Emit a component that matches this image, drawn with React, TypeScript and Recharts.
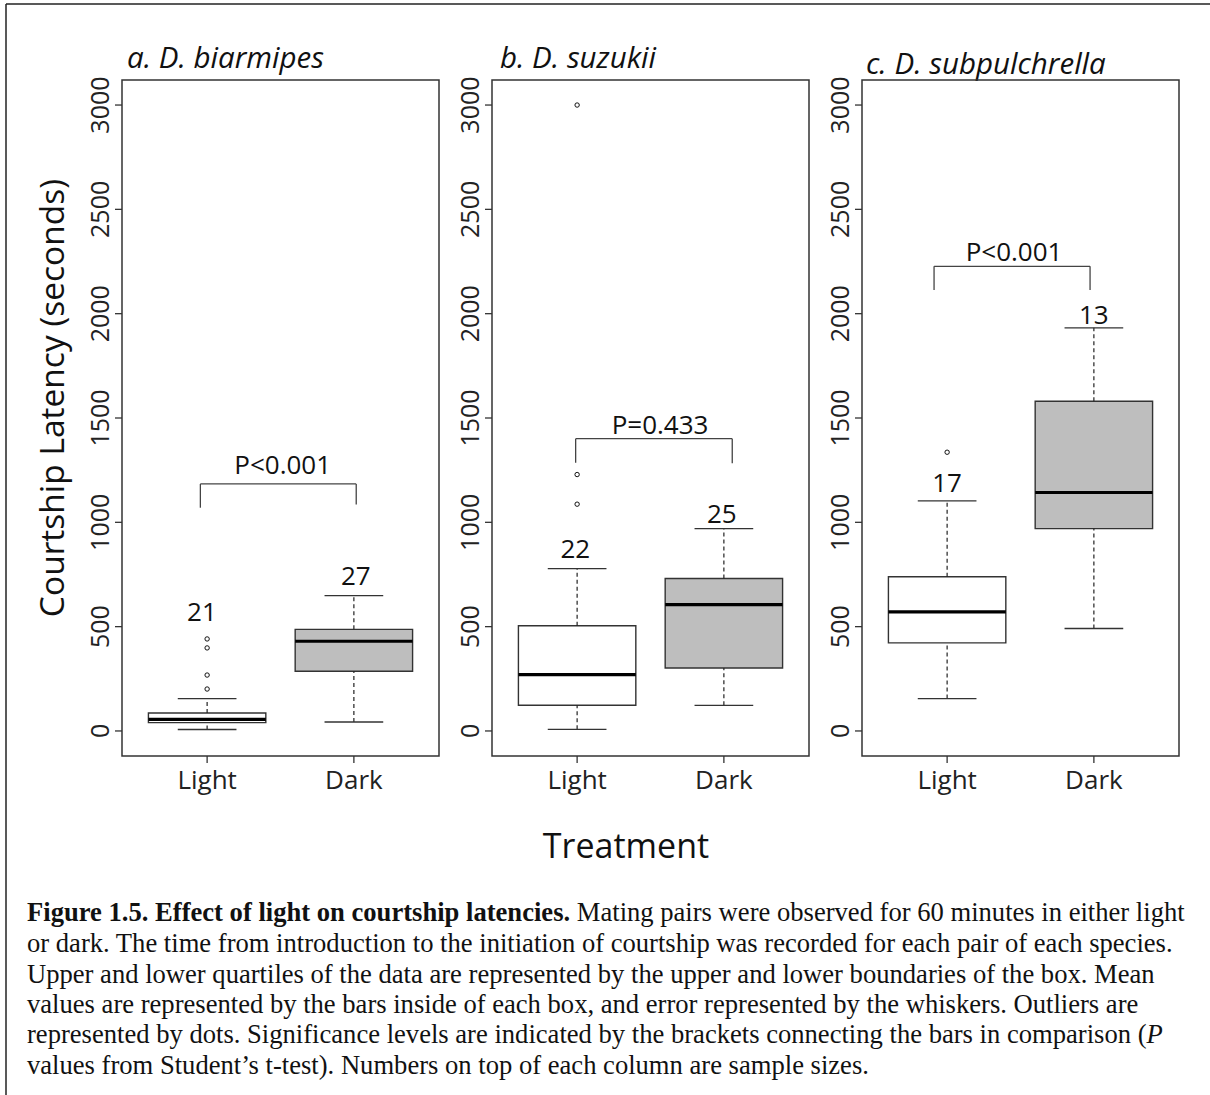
import React from 'react';
import {
  ComposedChart,
  XAxis,
  YAxis,
  Scatter,
  ReferenceArea,
  ReferenceLine,
  ReferenceDot,
} from 'recharts';

const groups = ['Light', 'Dark'];
const yTicks = [0, 500, 1000, 1500, 2000, 2500, 3000];
const speciesTitles = ['a. D. biarmipes', 'b. D. suzukii', 'c. D. subpulchrella'];
const pLabels = ['P<0.001', 'P=0.433', 'P<0.001'];

// [lower whisker, Q1, median, Q3, upper whisker] for Light, Dark
const biarmipesBoxes = [
  [7, 40, 56, 86, 155],
  [43, 286, 430, 487, 649],
];
const suzukiiBoxes = [
  [8, 123, 270, 504, 778],
  [123, 302, 606, 731, 970],
];
const subpulchrellaBoxes = [
  [155, 422, 571, 739, 1103],
  [491, 970, 1143, 1580, 1932],
];

// outliers, all in the Light treatment
const biarmipesOutliers = [201, 268, 398, 441];
const suzukiiOutliers = [1087, 1229, 3000];
const subpulchrellaOutliers = [1336];

// sample sizes (Light, Dark)
const biarmipesN = [21, 27];
const suzukiiN = [22, 25];
const subpulchrellaN = [17, 13];

const FONT = "'Open Sans', 'Noto Sans', sans-serif";
const SERIF = "'Liberation Serif', 'Times New Roman', serif";
const PLOT_W = 317;
const PLOT_H = 676;
const X_DOMAIN = [0.42, 2.58];
const Y_DOMAIN = [-120, 3120];

// placement of the annotations inside each panel (data units)
const panels = [
  {
    title: speciesTitles[0],
    boxes: biarmipesBoxes,
    outliers: biarmipesOutliers,
    n: biarmipesN,
    p: pLabels[0],
    left: 122,
    titleAt: [127, 68],
    nAt: [[0.965, 572], [2.013, 745]],
    bracket: { x1: 0.954, x2: 2.016, top: 1184, foot1: 1070, foot2: 1086 },
    pAt: [1.515, 1275],
  },
  {
    title: speciesTitles[1],
    boxes: suzukiiBoxes,
    outliers: suzukiiOutliers,
    n: suzukiiN,
    p: pLabels[1],
    left: 492,
    titleAt: [500, 68],
    nAt: [[0.988, 871], [1.986, 1043]],
    bracket: { x1: 0.99, x2: 2.057, top: 1401, foot1: 1286, foot2: 1283 },
    pAt: [1.565, 1466],
  },
  {
    title: speciesTitles[2],
    boxes: subpulchrellaBoxes,
    outliers: subpulchrellaOutliers,
    n: subpulchrellaN,
    p: pLabels[2],
    left: 862,
    titleAt: [866, 74],
    nAt: [[1.0, 1190], [2.0, 1994]],
    bracket: { x1: 0.911, x2: 1.974, top: 2227, foot1: 2113, foot2: 2113 },
    pAt: [1.456, 2297],
  },
];

const boxFills = ['#ffffff', '#bebebe'];

function YTick(props: any) {
  const { x, y, payload } = props;
  return (
    <text
      x={x}
      y={y}
      transform={`rotate(-90 ${x} ${y})`}
      textAnchor="middle"
      fontFamily={FONT}
      fontSize={25}
      fill="#222"
    >
      {payload.value}
    </text>
  );
}

function XTick(props: any) {
  const { x, y, payload } = props;
  return (
    <text x={x} y={y} dy={22} textAnchor="middle" fontFamily={FONT} fontSize={26} fill="#222">
      {groups[payload.value - 1]}
    </text>
  );
}

function textLabel(value: string) {
  return { value, position: 'center' as const, fontSize: 26, fill: '#111', fontFamily: FONT };
}

function Panel({ panel }: { panel: (typeof panels)[number] }) {
  const outlierData = panel.outliers.map((y) => ({ x: 1, y }));
  const { bracket } = panel;
  return (
    <div style={{ position: 'absolute', left: panel.left - 60, top: 30 }}>
      <ComposedChart
        width={60 + PLOT_W + 10}
        height={50 + PLOT_H + 60}
        margin={{ top: 50, right: 10, bottom: 0, left: 0 }}
      >
        <XAxis
          type="number"
          dataKey="x"
          domain={X_DOMAIN}
          ticks={[1, 2]}
          interval={0}
          allowDataOverflow
          height={60}
          tickSize={7}
          tickMargin={4}
          axisLine={false}
          tickLine={{ stroke: '#333', strokeWidth: 1.3 }}
          tick={(p: any) => <XTick {...p} />}
        />
        <YAxis
          type="number"
          dataKey="y"
          domain={Y_DOMAIN}
          ticks={yTicks}
          interval={0}
          allowDataOverflow
          width={60}
          tickSize={7}
          tickMargin={6}
          axisLine={false}
          tickLine={{ stroke: '#333', strokeWidth: 1.3 }}
          tick={(p: any) => <YTick {...p} />}
        />

        {/* plot frame */}
        <ReferenceArea
          x1={X_DOMAIN[0]}
          x2={X_DOMAIN[1]}
          y1={Y_DOMAIN[0]}
          y2={Y_DOMAIN[1]}
          fill="none"
          stroke="#333"
          strokeWidth={1.5}
        />

        {/* boxes */}
        {panel.boxes.map(([lo, q1, , q3, hi], i) => {
          const cx = i + 1;
          return (
            <React.Fragment key={`box-${i}`}>
              <ReferenceLine
                segment={[{ x: cx, y: lo }, { x: cx, y: q1 }]}
                stroke="#222"
                strokeWidth={1.2}
                strokeDasharray="4 3"
              />
              <ReferenceLine
                segment={[{ x: cx, y: q3 }, { x: cx, y: hi }]}
                stroke="#222"
                strokeWidth={1.2}
                strokeDasharray="4 3"
              />
              <ReferenceLine
                segment={[{ x: cx - 0.2, y: lo }, { x: cx + 0.2, y: lo }]}
                stroke="#333"
                strokeWidth={1.3}
              />
              <ReferenceLine
                segment={[{ x: cx - 0.2, y: hi }, { x: cx + 0.2, y: hi }]}
                stroke="#333"
                strokeWidth={1.3}
              />
              <ReferenceArea
                x1={cx - 0.4}
                x2={cx + 0.4}
                y1={q1}
                y2={q3}
                fill={boxFills[i]}
                fillOpacity={1}
                stroke="#333"
                strokeWidth={1.4}
              />
            </React.Fragment>
          );
        })}
        {panel.boxes.map(([, , med], i) => (
          <ReferenceLine
            key={`med-${i}`}
            segment={[{ x: i + 0.6, y: med }, { x: i + 1.4, y: med }]}
            stroke="#000"
            strokeWidth={3.2}
          />
        ))}

        {/* outliers */}
        <Scatter
          data={outlierData}
          isAnimationActive={false}
          shape={(p: any) => (
            <circle cx={p.cx} cy={p.cy} r={2.2} fill="#fff" stroke="#111" strokeWidth={1} />
          )}
        />

        {/* sample sizes */}
        {panel.n.map((n, i) => (
          <ReferenceDot
            key={`n-${i}`}
            x={panel.nAt[i][0]}
            y={panel.nAt[i][1]}
            r={0}
            fill="none"
            stroke="none"
            label={textLabel(String(n))}
          />
        ))}

        {/* significance bracket */}
        <ReferenceLine
          segment={[{ x: bracket.x1, y: bracket.foot1 }, { x: bracket.x1, y: bracket.top }]}
          stroke="#444"
          strokeWidth={1.3}
        />
        <ReferenceLine
          segment={[{ x: bracket.x1, y: bracket.top }, { x: bracket.x2, y: bracket.top }]}
          stroke="#444"
          strokeWidth={1.3}
        />
        <ReferenceLine
          segment={[{ x: bracket.x2, y: bracket.top }, { x: bracket.x2, y: bracket.foot2 }]}
          stroke="#444"
          strokeWidth={1.3}
        />
        <ReferenceDot
          x={panel.pAt[0]}
          y={panel.pAt[1]}
          r={0}
          fill="none"
          stroke="none"
          label={textLabel(panel.p)}
        />
      </ComposedChart>
    </div>
  );
}

const captionLines = [
  'or dark. The time from introduction to the initiation of courtship was recorded for each pair of each species.',
  'Upper and lower quartiles of the data are represented by the upper and lower boundaries of the box. Mean',
  'values are represented by the bars inside of each box, and error represented by the whiskers. Outliers are',
];

export default function App() {
  return (
    <div
      style={{
        position: 'absolute',
        left: 0,
        top: 0,
        width: 1210,
        height: 1095,
        background: '#fff',
        overflow: 'hidden',
      }}
    >
      <svg width={1210} height={1095} style={{ position: 'absolute', left: 0, top: 0 }}>
        <line x1={6} y1={4} x2={1210} y2={4} stroke="#222" strokeWidth={1.5} />
        <line x1={6} y1={4} x2={6} y2={1095} stroke="#222" strokeWidth={1.5} />

        {panels.map((p) => (
          <text
            key={p.title}
            x={p.titleAt[0]}
            y={p.titleAt[1]}
            fontFamily={FONT}
            fontStyle="italic"
            fontSize={29.5}
            fill="#111"
          >
            {p.title}
          </text>
        ))}

        <text
          x={64}
          y={398}
          transform="rotate(-90 64 398)"
          textAnchor="middle"
          fontFamily={FONT}
          fontSize={33.5}
          fill="#111"
        >
          Courtship Latency (seconds)
        </text>

        <text x={626} y={858} textAnchor="middle" fontFamily={FONT} fontSize={34} fill="#111">
          Treatment
        </text>

        <g fontFamily={SERIF} fontSize={26.6} fill="#111">
          <text x={27} y={921}>
            <tspan fontWeight="bold">Figure 1.5. Effect of light on courtship latencies.</tspan>
            {' Mating pairs were observed for 60 minutes in either light'}
          </text>
          {captionLines.map((line, i) => (
            <text key={i} x={27} y={952 + i * 30.5}>
              {line}
            </text>
          ))}
          <text x={27} y={1043}>
            {'represented by dots. Significance levels are indicated by the brackets connecting the bars in comparison ('}
            <tspan fontStyle="italic">P</tspan>
          </text>
          <text x={27} y={1074}>
            values from Student’s t-test). Numbers on top of each column are sample sizes.
          </text>
        </g>
      </svg>

      {panels.map((p) => (
        <Panel key={p.title} panel={p} />
      ))}
    </div>
  );
}
